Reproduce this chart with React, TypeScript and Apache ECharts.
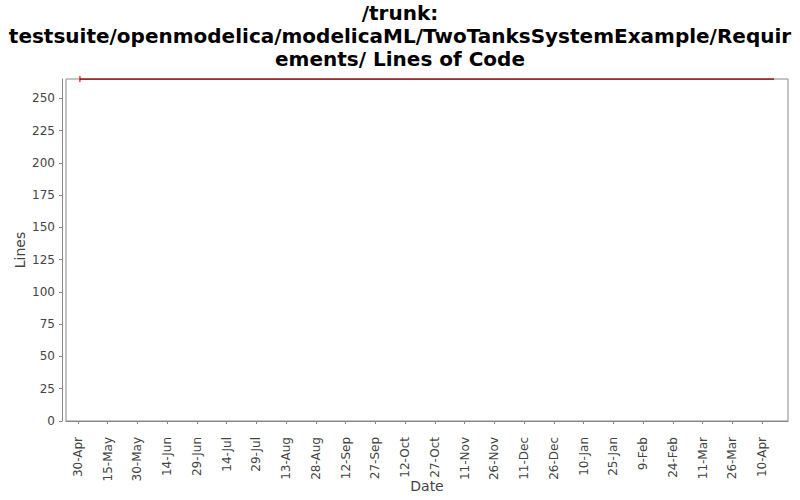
import React, { useEffect, useRef } from "react";
import * as echarts from "echarts";

// Axis range (daily categories)
const axisStart = "2010-04-24";
const axisDays = 365;
const firstTickOffset = 6; // 30-Apr
const tickEvery = 15;

// Lines of code series
const locDates = ["2010-05-01", "2011-04-16"];
const locValues = [265, 265];

// Red marker (first point)
const markerDates = ["2010-05-01"];
const markerValues = [265];

const yMax = 265;
const yInterval = 25;

const titleLines = [
  "/trunk:",
  "testsuite/openmodelica/modelicaML/TwoTanksSystemExample/Requir",
  "ements/ Lines of Code",
];

const MONTHS = ["Jan", "Feb", "Mar", "Apr", "May", "Jun", "Jul", "Aug", "Sep", "Oct", "Nov", "Dec"];

function isoOf(d: Date) {
  return d.toISOString().slice(0, 10);
}

function buildCategories() {
  const start = new Date(axisStart + "T00:00:00Z");
  const out: string[] = [];
  for (let i = 0; i < axisDays; i++) {
    const d = new Date(start.getTime() + i * 86400000);
    out.push(isoOf(d));
  }
  return out;
}

function fmt(iso: string) {
  const d = new Date(iso + "T00:00:00Z");
  return `${d.getUTCDate()}-${MONTHS[d.getUTCMonth()]}`;
}

export default function App() {
  const ref = useRef<HTMLDivElement>(null);
  useEffect(() => {
    if (!ref.current) return;
    const chart = echarts.init(ref.current, undefined, { renderer: "svg" });
    const cats = buildCategories();
    const locData = cats.map((c) => {
      const i = locDates.indexOf(c);
      return i >= 0 ? locValues[i] : null;
    });
    const markerData = cats.map((c) => {
      const i = markerDates.indexOf(c);
      return i >= 0 ? markerValues[i] : null;
    });
    const showTick = (index: number) =>
      index >= firstTickOffset && (index - firstTickOffset) % tickEvery === 0;
    const font = "DejaVu Sans";
    chart.setOption({
      animation: false,
      backgroundColor: "#ffffff",
      title: {
        text: titleLines.join("\n"),
        left: "center",
        top: 1,
        padding: 0,
        textStyle: {
          fontFamily: font,
          fontSize: 20,
          fontWeight: "bold",
          color: "#000000",
          lineHeight: 23,
        },
      },
      grid: {
        left: 66,
        right: 12,
        top: 79,
        bottom: 79,
        outerBoundsMode: "none",
        containLabel: false,
        show: true,
        borderColor: "#888888",
        borderWidth: 1,
        backgroundColor: "#ffffff",
      },
      xAxis: {
        type: "category",
        data: cats,
        boundaryGap: false,
        offset: 3,
        name: "Date",
        nameLocation: "middle",
        nameGap: 55,
        nameMoveOverlap: false,
        nameTextStyle: { fontFamily: font, fontSize: 14, color: "#444444" },
        axisLine: { show: true, lineStyle: { color: "#888888", width: 1 } },
        axisTick: { show: true, interval: (i: number) => showTick(i), length: 3, lineStyle: { color: "#888888" } },
        axisLabel: {
          interval: (i: number) => showTick(i),
          rotate: 90,
          margin: 13,
          fontFamily: font,
          fontSize: 12,
          color: "#444444",
          formatter: (v: string) => fmt(v),
        },
        splitLine: { show: false },
      },
      yAxis: {
        type: "value",
        min: 0,
        max: yMax,
        interval: yInterval,
        offset: 4,
        name: "Lines",
        nameLocation: "middle",
        nameGap: 35,
        nameMoveOverlap: false,
        nameTextStyle: { fontFamily: font, fontSize: 14, color: "#444444" },
        axisLine: { show: true, lineStyle: { color: "#888888", width: 1 } },
        axisTick: { show: true, length: 3, lineStyle: { color: "#888888" } },
        axisLabel: {
          margin: 7,
          fontFamily: font,
          fontSize: 12,
          color: "#444444",
          showMaxLabel: false,
          formatter: (v: number) => (v % yInterval === 0 ? String(v) : ""),
        },
        splitLine: { show: false },
      },
      series: [
        {
          type: "line",
          name: "Lines of Code",
          data: locData,
          connectNulls: true,
          showSymbol: false,
          symbol: "none",
          lineStyle: { color: "#8b0000", width: 1.5 },
          itemStyle: { color: "#8b0000" },
        },
        {
          type: "scatter",
          name: "marker",
          data: markerData,
          symbol: "rect",
          symbolSize: [1.5, 6],
          itemStyle: { color: "#ff0000" },
        },
      ],
    });
    return () => chart.dispose();
  }, []);
  return (
    <div
      ref={ref}
      style={{ position: "fixed", left: 0, top: 0, width: 800, height: 500 }}
    />
  );
}
